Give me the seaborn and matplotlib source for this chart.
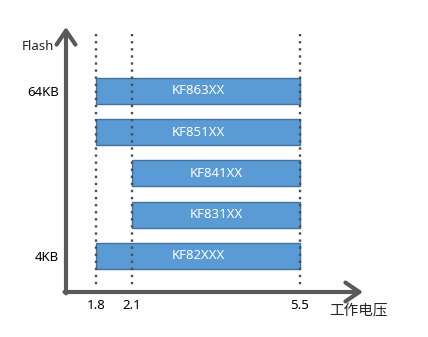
import numpy as np
import pandas as pd
import matplotlib
matplotlib.use("Agg")
import matplotlib.pyplot as plt
import seaborn as sns

# ---- data ----
chips = ["KF863XX", "KF851XX", "KF841XX", "KF831XX", "KF82XXX"]
v_min = [1.8, 1.8, 2.1, 2.1, 1.8]
v_max = [5.5, 5.5, 5.5, 5.5, 5.5]
volt_ticks = [1.8, 2.1, 5.5]
volt_labels = ["1.8", "2.1", "5.5"]
flash_labels = ["64KB", "", "", "", "4KB"]
x_title = "工作电压"
y_title = "Flash"

sns.set_theme(style="white")
plt.rcParams["font.family"] = ["Noto Sans", "Noto Sans CJK SC", "DejaVu Sans"]

W, H = 428, 337
fig = plt.figure(figsize=(W / 100, H / 100), dpi=100)
ax = fig.add_axes([66 / W, (H - 292) / H, (363 - 66) / W, (292 - 27) / H])

# schematic (piecewise) voltage scale
anch_v = np.array([1.55, 1.8, 2.1, 5.5, 6.775])
anch_u = np.array([0.0, 30.0, 66.0, 234.0, 297.0])

def fwd(v):
    return np.interp(v, anch_v, anch_u, left=-1e3, right=1e3)

def inv(u):
    return np.interp(u, anch_u, anch_v, left=anch_v[0] - 1, right=anch_v[-1] + 1)

df = pd.DataFrame({"chip": chips, "vmin": v_min, "vmax": v_max})

sns.barplot(data=df, x="vmax", y="chip", orient="h", ax=ax,
            color="#5B9BD5", saturation=1, width=0.63,
            edgecolor="#41719C", linewidth=1.0)
ax.set_xscale("function", functions=(fwd, inv))
for patch, lo, hi in zip(ax.patches, df["vmin"], df["vmax"]):
    patch.set_x(lo)
    patch.set_width(hi - lo)
    patch.set_facecolor("#5B9BD5")

for i, (name, lo, hi) in enumerate(zip(chips, v_min, v_max)):
    xc = inv((fwd(lo) + fwd(hi)) / 2)
    ax.text(xc, i, name, color="white", ha="center", va="center", fontsize=9.5)

ax.set_xlim(anch_v[0], anch_v[-1])
ax.set_ylim(4.873, -1.55)

ax.vlines(volt_ticks, -1.38, 4.78, colors="#4d4d4d", linewidth=1.7,
          linestyles=(0, (1, 2)), zorder=5)

ax.set_xticks(volt_ticks)
ax.set_xticklabels(volt_labels, fontsize=9.5)
ax.set_yticks(range(len(chips)))
ax.set_yticklabels(flash_labels, fontsize=9.5)
ax.tick_params(axis="both", length=0, colors="black")
ax.tick_params(axis="x", pad=5)
ax.tick_params(axis="y", pad=5)
ax.set_xlabel("")
ax.set_ylabel("")
for s in ax.spines.values():
    s.set_visible(False)
ax.set_facecolor("none")

ap = dict(arrowstyle="->,head_length=0.5,head_width=0.34", lw=3,
          color="#595959", mutation_scale=20, shrinkA=0, shrinkB=0)
ax.annotate("", xy=(0, 1), xytext=(0, -0.005), xycoords="axes fraction",
            arrowprops=ap, annotation_clip=False)
ax.annotate("", xy=(1, 0), xytext=(-0.005, 0), xycoords="axes fraction",
            arrowprops=ap, annotation_clip=False)

fig.text(38 / W, 1 - 47 / H, y_title, ha="center", va="center", fontsize=9.5)
fig.text(358 / W, 1 - 312 / H, x_title, ha="center", va="center", fontsize=10.5)

fig.savefig("out.png", dpi=100)
